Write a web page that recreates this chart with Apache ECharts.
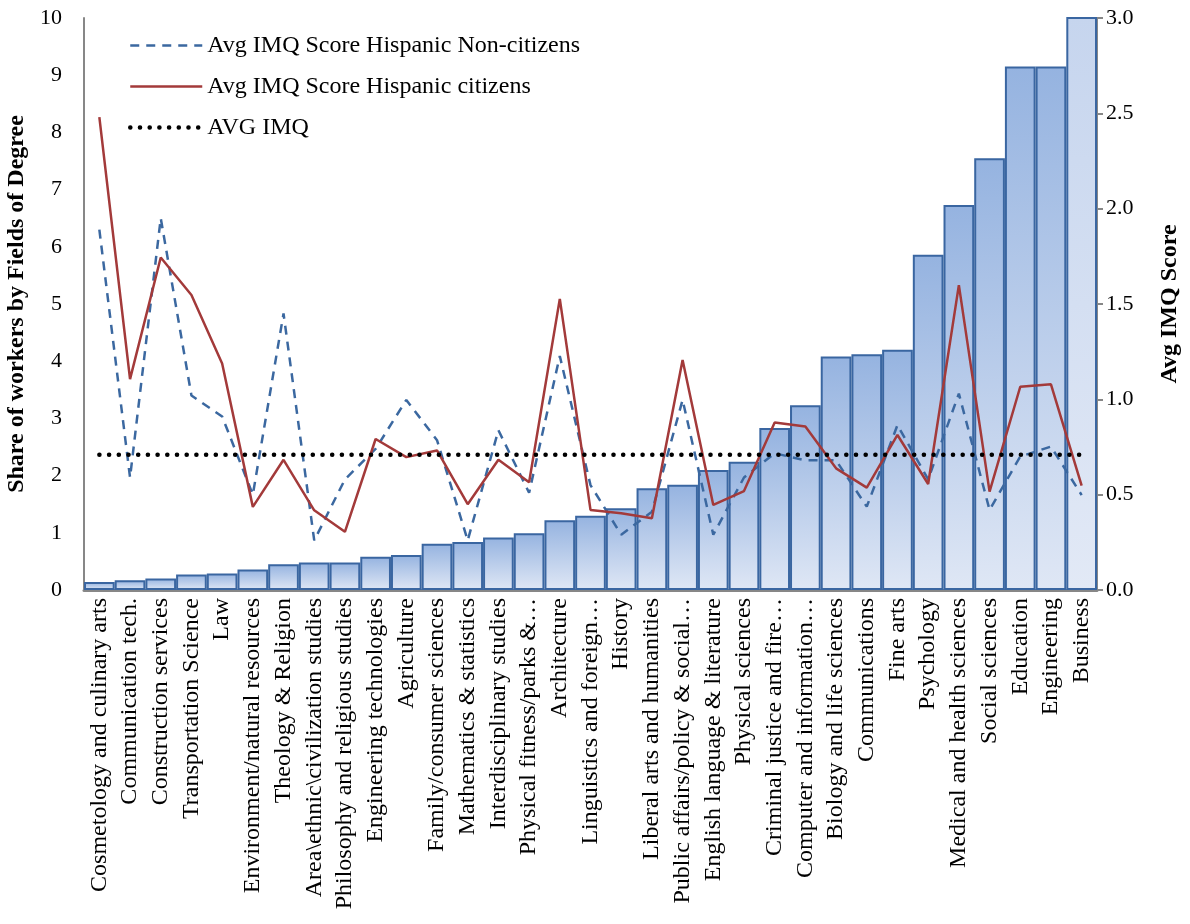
<!DOCTYPE html>
<html>
<head>
<meta charset="utf-8">
<script src="https://cdn.jsdelivr.net/npm/echarts@6/dist/echarts.min.js"></script>
<style>
html,body{margin:0;padding:0;background:#fff;}
#chart{width:1190px;height:924px;}
</style>
</head>
<body>
<div id="chart"></div>
<script>
const categories = [
  "Cosmetology and culinary arts", "Communication tech.", "Construction services",
  "Transportation Science", "Law", "Environment/natural resources", "Theology & Religion",
  "Area\\ethnic\\civilization studies", "Philosophy and religious studies",
  "Engineering technologies", "Agriculture", "Family/consumer sciences",
  "Mathematics & statistics", "Interdisciplinary studies", "Physical fitness/parks &…",
  "Architecture", "Linguistics and foreign…", "History", "Liberal arts and humanities",
  "Public affairs/policy & social…", "English language & literature", "Physical sciences",
  "Criminal justice and fire…", "Computer and information…", "Biology and life sciences",
  "Communications", "Fine arts", "Psychology", "Medical and health sciences",
  "Social sciences", "Education", "Engineering", "Business"
];

// Share of workers by field of degree (left axis, %)
const shareWorkers = [
  0.14, 0.17, 0.20, 0.27, 0.29, 0.36, 0.45, 0.48, 0.48, 0.58, 0.61,
  0.81, 0.84, 0.92, 0.99, 1.22, 1.30, 1.43, 1.78, 1.84, 2.10, 2.24,
  2.83, 3.23, 4.08, 4.12, 4.20, 5.86, 6.73, 7.55, 9.15, 9.15, 12.0
];

// Avg IMQ score, Hispanic non-citizens (right axis)
const imqNonCitizens = [
  1.89, 0.59, 1.95, 1.02, 0.91, 0.50, 1.45, 0.26, 0.58, 0.74, 0.997,
  0.786, 0.26, 0.838, 0.51, 1.227, 0.55, 0.29, 0.41, 0.997, 0.29, 0.59,
  0.717, 0.68, 0.68, 0.437, 0.865, 0.58, 1.03, 0.42, 0.70, 0.752, 0.498
];

// Avg IMQ score, Hispanic citizens (right axis)
const imqCitizens = [
  2.48, 1.106, 1.744, 1.547, 1.188, 0.436, 0.683, 0.418, 0.305, 0.792, 0.697,
  0.732, 0.45, 0.683, 0.565, 1.527, 0.42, 0.402, 0.376, 1.206, 0.446, 0.519,
  0.879, 0.857, 0.638, 0.537, 0.813, 0.556, 1.599, 0.516, 1.066, 1.079, 0.547
];

// Overall average IMQ (right axis)
const avgImq = [
  0.71, 0.71, 0.71, 0.71, 0.71, 0.71, 0.71, 0.71, 0.71, 0.71, 0.71,
  0.71, 0.71, 0.71, 0.71, 0.71, 0.71, 0.71, 0.71, 0.71, 0.71, 0.71,
  0.71, 0.71, 0.71, 0.71, 0.71, 0.71, 0.71, 0.71, 0.71, 0.71, 0.71
];

const leftTicks = [0, 10, 1];
const rightTicks = [0, 3, 0.5];

const FONT = "'Liberation Serif', 'Times New Roman', serif";
const chart = echarts.init(document.getElementById('chart'));

const barGrad = new echarts.graphic.LinearGradient(0, 0, 0, 1, [
  {offset: 0, color: '#95b3e0'}, {offset: 1, color: '#dfe7f5'}
]);
const barGradLast = new echarts.graphic.LinearGradient(0, 0, 0, 1, [
  {offset: 0, color: '#c6d5ee'}, {offset: 1, color: '#e2e9f6'}
]);

const barData = shareWorkers.map((v, i) => i === shareWorkers.length - 1
  ? {value: v, itemStyle: {color: barGradLast}}
  : v);

chart.setOption({
  animation: false,
  backgroundColor: '#ffffff',
  textStyle: {fontFamily: FONT, color: '#000'},
  grid: {left: 84, right: 93, top: 18, bottom: 334, containLabel: false, outerBoundsMode: 'none'},
  legend: {
    orient: 'vertical',
    left: 123, top: 28,
    itemWidth: 72, itemHeight: 14, itemGap: 16,
    itemStyle: {opacity: 0},
    lineStyle: {width: 'inherit'},
    textStyle: {fontFamily: FONT, fontSize: 24, color: '#000', lineHeight: 25},
    data: ['Avg IMQ Score Hispanic Non-citizens', 'Avg IMQ Score Hispanic citizens', 'AVG IMQ']
  },
  xAxis: {
    type: 'category',
    data: categories,
    axisLine: {show: true, lineStyle: {color: '#878787', width: 3}},
    axisTick: {show: false},
    axisLabel: {
      interval: 0, rotate: 90, margin: 8,
      fontFamily: FONT, fontSize: 24, color: '#000'
    }
  },
  yAxis: [
    {
      type: 'value', min: leftTicks[0], max: leftTicks[1], interval: leftTicks[2],
      name: 'Share of workers by Fields of Degree',
      nameLocation: 'middle', nameRotate: 90, nameGap: 49,
      nameTextStyle: {fontFamily: FONT, fontSize: 24, fontWeight: 'bold', color: '#000'},
      axisLine: {show: true, lineStyle: {color: '#878787', width: 2}},
      axisTick: {show: false},
      splitLine: {show: false},
      axisLabel: {fontFamily: FONT, fontSize: 22, color: '#000', margin: 22}
    },
    {
      type: 'value', min: rightTicks[0], max: rightTicks[1], interval: rightTicks[2],
      position: 'right',
      name: 'Avg IMQ Score',
      nameLocation: 'middle', nameRotate: 90, nameGap: 61,
      nameTextStyle: {fontFamily: FONT, fontSize: 24, fontWeight: 'bold', color: '#000'},
      axisLine: {show: true, lineStyle: {color: '#878787', width: 2}},
      axisTick: {show: true, length: 6, lineStyle: {color: '#878787', width: 2}},
      splitLine: {show: false},
      axisLabel: {fontFamily: FONT, fontSize: 22, color: '#000', margin: 9,
        formatter: v => v.toFixed(1)}
    }
  ],
  series: [
    {
      name: 'Share of workers',
      type: 'bar',
      yAxisIndex: 0,
      data: barData,
      barCategoryGap: '0%',
      clip: true,
      itemStyle: {color: barGrad, borderColor: '#3a66a1', borderWidth: 2}
    },
    {
      name: 'Avg IMQ Score Hispanic Non-citizens',
      type: 'line',
      yAxisIndex: 1,
      data: imqNonCitizens,
      symbol: 'none',
      lineStyle: {color: '#3b68a0', width: 2.5, type: [9, 7]},
      itemStyle: {color: '#3b68a0'}
    },
    {
      name: 'Avg IMQ Score Hispanic citizens',
      type: 'line',
      yAxisIndex: 1,
      data: imqCitizens,
      symbol: 'none',
      lineStyle: {color: '#a33a3a', width: 2.5},
      itemStyle: {color: '#a33a3a'}
    },
    {
      name: 'AVG IMQ',
      type: 'line',
      yAxisIndex: 1,
      data: avgImq,
      symbol: 'none',
      lineStyle: {color: '#000', width: 4.5, type: [0.1, 9.6], cap: 'round'},
      itemStyle: {color: '#000'}
    }
  ]
});
</script>
</body>
</html>
